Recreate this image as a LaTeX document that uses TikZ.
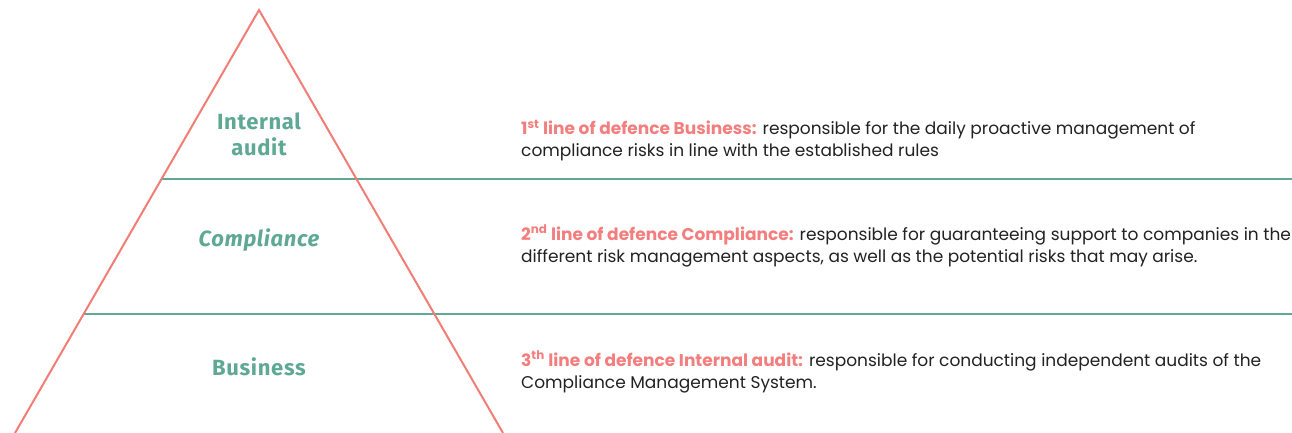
\documentclass[tikz,border=0pt]{standalone}
\usepackage{fontspec}
\setmainfont{Poppins}
\newfontfamily\labfont{Fira Sans}[LetterSpace=3]
\definecolor{salmon}{HTML}{F27D76}
\definecolor{pinktxt}{HTML}{F47E7E}
\definecolor{teal}{HTML}{5FA894}
\definecolor{ink}{HTML}{222222}
\begin{document}
\begin{tikzpicture}[x=1pt,y=-1pt,
  lab/.style={text=teal,font=\labfont\bfseries\fontsize{22}{26}\selectfont,align=center,inner sep=0pt},
  desc/.style={text=ink,font=\fontsize{17}{22}\selectfont,align=left,anchor=base west,inner sep=0pt},
  tri/.style={draw=salmon,line width=2pt},
  sep/.style={draw=teal,line width=2.5pt}]
\useasboundingbox (0,0) rectangle (1292,433);
\coordinate (apex) at (259,10);
\coordinate (bl) at (15,433);
\coordinate (br) at (503,433);
\coordinate (l1a) at (161.5,179);
\coordinate (l1b) at (1292,179);
\coordinate (l2a) at (83.6,314);
\coordinate (l2b) at (1292,314);
\draw[sep] (l1a) -- (l1b);
\draw[sep] (l2a) -- (l2b);
\draw[tri] (bl) -- (apex) -- (br);
\node[lab] (ia) at (259,134) {Internal\\audit};
\node[lab] (co) at (259,240) {\itshape Compliance};
\node[lab] (bu) at (259,367) {Business};
\newcommand{\hd}[1]{{\bfseries\color{pinktxt}#1}}
\node[desc] (d1) at (521,157) {\hd{1\textsuperscript{st} line of defence Business:} responsible for the daily proactive management of\\compliance risks in line with the established rules};
\node[desc] (d2) at (521,262) {\hd{2\textsuperscript{nd} line of defence Compliance:} responsible for guaranteeing support to companies in the\\different risk management aspects, as well as the potential risks that may arise.};
\node[desc] (d3) at (521,388) {\hd{3\textsuperscript{th} line of defence Internal audit:} responsible for conducting independent audits of the\\Compliance Management System.};
\end{tikzpicture}
\end{document}
